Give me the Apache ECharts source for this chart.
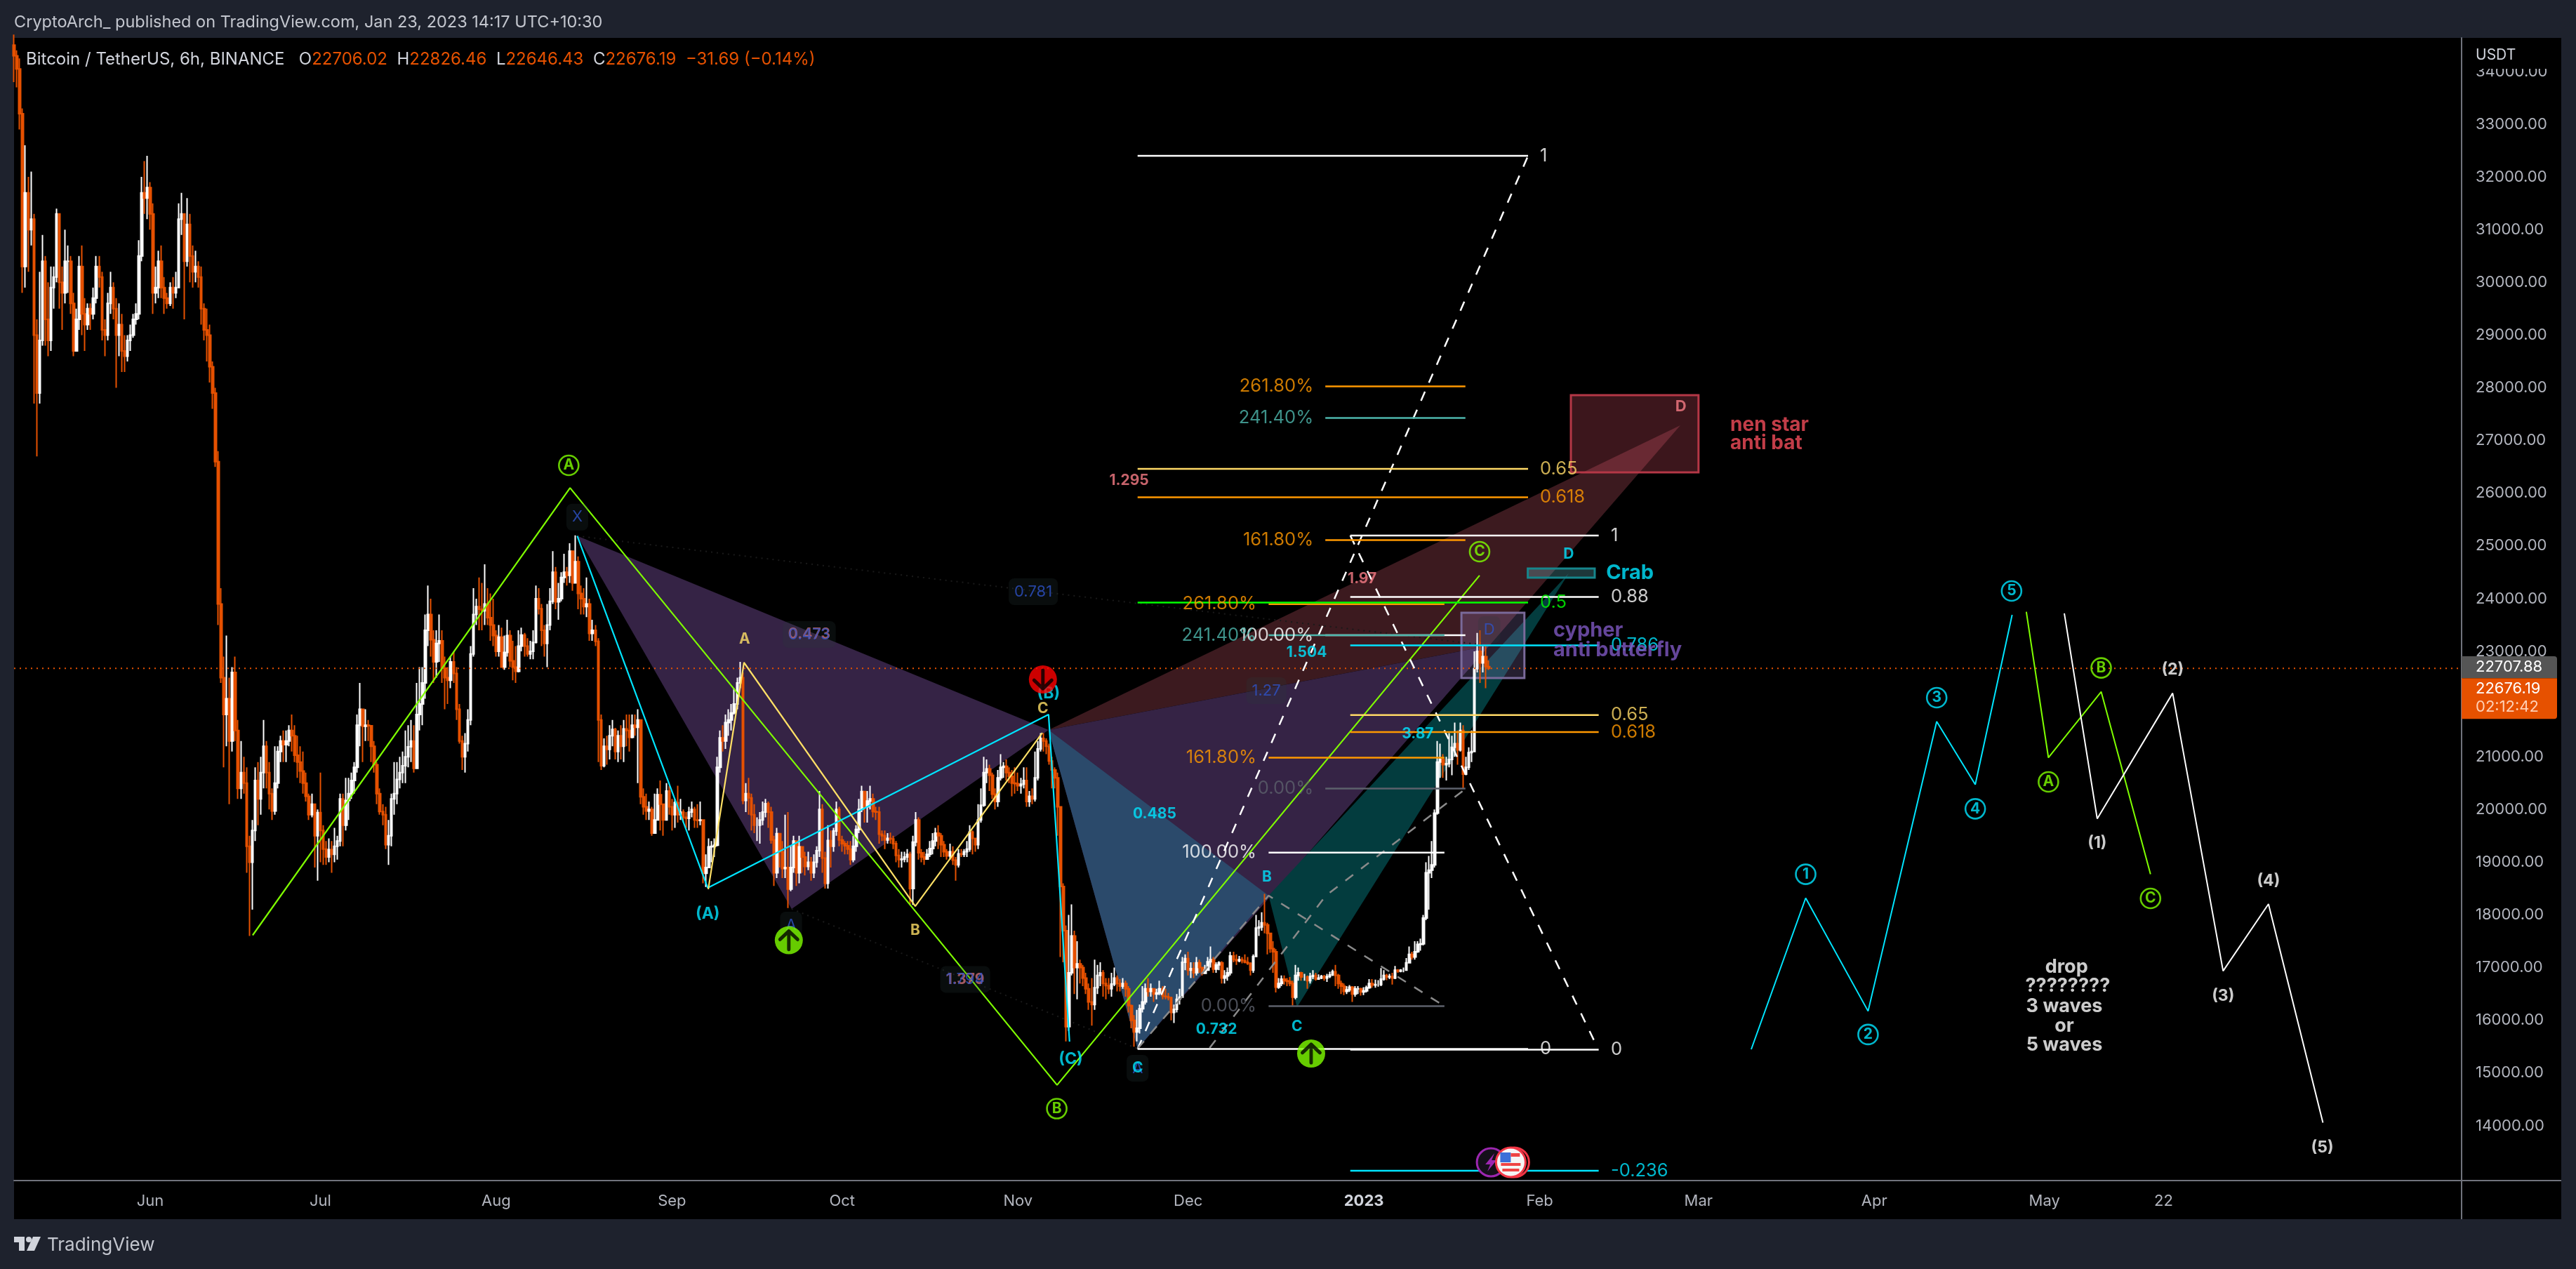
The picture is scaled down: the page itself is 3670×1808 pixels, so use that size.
<!DOCTYPE html>
<html><head><meta charset="utf-8">
<style>html,body{margin:0;padding:0;background:#1e222d}#c{width:3670px;height:1808px}</style>
<script src="https://cdn.jsdelivr.net/npm/echarts@6/dist/echarts.min.js"></script>
</head><body><div id="c"></div>
<script>
// time axis: days since 1 Jun 2022. Candles are 12 h apart, [close, low, high]; open = previous close.
const firstCandleDay = -24, firstOpen = 34500;
const may22 = [[34300,33800,34700],[34050,33700,34400],[33200,32900,34250],[30300,29800,33300],[31700,29900,32600],[31000,30200,32000],[31200,30700,32100],[29000,27700,31300],[27900,26700,29300],[28900,27700,30200],[30400,28800,30900],[29300,28800,30500],[28900,28600,30000],[29900,28700,30300],[30100,29500,30300],[31300,30000,31400],[30000,29500,31300],[29800,29100,30300],[30400,29600,31000],[30400,29800,30700],[29600,29400,30500],[28700,28600,29800],[29300,28700,29500],[30300,29100,30500],[29400,29000,30700],[29200,28700,29700],[29500,29100,29600],[29400,29100,29600],[29700,29300,29900],[30300,29600,30500],[30100,29900,30500],[29100,28900,30200],[29000,28600,29300],[29600,28900,29800],[29900,29400,30200],[29500,29300,30000],[29000,28000,29700],[29200,28600,29600],[28700,28300,29400],[28600,28300,29000],[28900,28500,29000],[29000,28700,29200],[29300,28950,29400],[29400,29200,29600],[30500,29300,30800],[31700,30400,32000],[31600,31300,32300],[31800,31200,32400]];
const jun22 = [[31300,31000,31900],[29800,29400,31500],[29900,29600,30300],[30400,29700,30600],[29900,29700,30700],[29700,29400,30100],[29600,29500,29800],[29900,29550,30000],[29800,29500,30100],[29900,29700,30200],[31200,29900,31500],[31300,30900,31700],[30400,29300,31300],[31100,30300,31600],[30500,30000,31300],[30200,29900,30700],[30300,30000,30600],[30100,29900,30400],[29500,29200,30300],[29100,28900,29600],[29000,28500,29500],[28400,28100,29200],[27900,27600,28500],[26600,26500,28000],[23900,23500,26800],[22500,22400,24200],[21800,20800,22900],[22100,21200,23300],[21300,20100,22500],[22600,21100,22700],[21500,21300,22900],[20400,20200,21700],[20700,20200,21300],[20500,20300,21000],[19300,18800,20800],[19000,17600,19500],[19600,18100,19800],[20550,19400,20800],[20200,19700,20900],[20700,19900,21000],[21200,20400,21700],[20700,20400,21300],[20300,20000,20900],[19970,19800,20400],[20500,19900,21200],[21100,20400,21200],[21300,20900,21400],[21230,20900,21500],[21300,20900,21500],[21500,21200,21600],[21400,21100,21800],[21030,20900,21600],[20900,20600,21400],[20730,20500,21200],[20500,20300,21100],[20250,20150,20700],[19900,19800,20300],[20100,19850,20300],[19500,18900,20100],[19940,18650,20000]];
const jul22 = [[19600,19000,20700],[19250,18950,19700],[19100,18950,19400],[19240,19000,19450],[19150,18800,19400],[19300,19000,19650],[19400,19050,19500],[20200,19300,20300],[19700,19300,20300],[20170,19600,20600],[20300,19800,20600],[20550,20200,20700],[20800,20300,20900],[21600,20700,21800],[21900,21200,22400],[21580,20900,21900],[21600,21300,21900],[21590,21300,21700],[21200,20900,21600],[20850,20700,21300],[20300,20100,20900],[19960,19900,20400],[19900,19700,20100],[19330,19250,20050],[19500,18950,19800],[20200,19300,20300],[20300,19900,20900],[20570,20100,20900],[20700,20400,21000],[20830,20500,21100],[21000,20500,21500],[21190,20800,21600],[21300,20900,21700],[20780,20700,21600],[21800,20800,22400],[22000,21500,22700],[22400,21600,22700],[23400,22100,23700],[23700,23100,24250],[23220,22900,24000],[22800,22400,23400],[23150,22500,23400],[23200,22800,23700],[22680,22400,23400],[22500,21900,22900],[22450,22000,22700],[22800,22300,22900],[22580,22400,23000],[21900,21700,22700],[21300,21250,22000],[21000,20750,21400],[21250,20700,21450],[21700,21100,21900],[22950,21600,23100],[23700,22900,24200],[23850,23500,24000],[23800,23400,24400],[23770,23400,24300],[23900,23500,24650],[23640,23500,24200],[23500,23200,24100],[23300,23100,24000]];
const aug22 = [[23000,22900,23400],[23270,22900,23500],[22700,22700,23450],[22980,22650,23300],[23300,22900,23600],[22820,22700,23400],[22700,22450,23200],[22620,22400,23100],[23100,22600,23400],[23310,23000,23450],[23100,22900,23350],[22950,22900,23250],[23000,22850,23200],[23170,22850,23400],[24000,23150,24250],[23810,23700,24200],[23400,23100,23900],[23150,22900,23500],[23500,22700,23900],[23950,23400,24200],[24500,23900,24900],[23940,23800,24600],[24000,23600,24300],[24400,23950,24500],[24500,24300,24850],[24440,24250,24600],[24900,24300,25050],[24300,24150,24900],[24700,24300,25200],[24100,23800,24800],[24000,23700,24250],[23850,23700,24200],[23900,23650,24400],[23340,23200,24000],[23400,23200,23600],[23190,23100,23500],[21700,20900,23250],[20830,20750,21800],[21200,20800,21350],[21140,20850,21400],[21400,20950,21600],[21520,21200,21700],[21100,20950,21550],[21400,20900,21500],[21200,20950,21600],[21530,20900,21700],[21500,21200,21800],[21370,21100,21800],[21600,21350,21800],[21560,21400,21800],[21700,20500,21900],[20240,20100,21000],[20050,19900,20400],[19970,19800,20300],[20000,19800,20150],[19550,19500,20050],[19800,19550,20300],[20280,19800,20400],[20100,19600,20550],[19800,19500,20100],[20350,19800,20500],[20050,19900,20450]];
const sep22 = [[19900,19600,20200],[20130,19650,20200],[19900,19750,20450],[19950,19800,20200],[19850,19750,20000],[19830,19650,19950],[19950,19600,20050],[20000,19850,20150],[19800,19650,20050],[19790,19650,20100],[19800,19700,20150],[18790,18600,19800],[18900,18530,19150],[19290,18900,19450],[19300,19000,19400],[19320,19100,19450],[20800,19300,21000],[21360,20700,21500],[21300,21100,21600],[21650,21150,21800],[21700,21400,21900],[21830,21500,22000],[22000,21800,22300],[22400,21900,22500],[22500,22300,22800],[20170,20100,22600],[20300,19950,20500],[20220,19900,20600],[19900,19600,20300],[19700,19550,20100],[19700,19400,19850],[19800,19350,19950],[19950,19700,20150],[20110,19850,20200],[19950,19650,20150],[19420,19350,20050],[18800,18550,19500],[19540,18700,19650],[19200,18900,19500],[18880,18700,19400],[18900,18700,19900],[18490,18130,19950],[18900,18450,19300],[19400,18800,19500],[18800,18550,19300],[19290,18600,19500],[19100,18800,19300],[18920,18750,19200],[19000,18850,19200],[18800,18650,19100],[19000,18700,19150],[19220,18900,19300],[20000,19100,20350],[19080,18800,20100],[18600,18500,19200],[19410,18500,19700],[19300,18900,19600],[19590,19200,19650],[20000,19500,20150],[19420,19300,20050]];
const oct22 = [[19350,19200,19500],[19310,19150,19400],[19250,19150,19400],[19050,18950,19400],[19300,19000,19500],[19620,19200,19700],[20000,19550,20200],[20340,19950,20450],[20050,19750,20350],[20160,19750,20350],[20200,20000,20450],[19960,19850,20300],[19950,19800,20050],[19530,19350,20050],[19500,19400,19600],[19420,19250,19600],[19450,19350,19550],[19440,19350,19560],[19350,19250,19500],[19130,19000,19400],[19050,18900,19250],[19060,18900,19200],[19100,19000,19200],[19150,19000,19250],[18500,18200,19200],[19380,18190,19500],[19800,19300,19950],[19180,19050,19850],[19100,19000,19250],[19060,18950,19200],[19150,19050,19250],[19260,19100,19400],[19400,19150,19550],[19550,19300,19650],[19500,19250,19700],[19330,19100,19550],[19200,19100,19400],[19120,19050,19250],[19200,19050,19350],[19040,18950,19300],[18950,18650,19100],[19160,18900,19250],[19150,19100,19250],[19200,19100,19250],[19250,19100,19400],[19570,19200,19700],[19450,19150,19600],[19330,19200,19450],[19800,19250,20100],[20080,19750,20400],[20700,20050,21000],[20770,20500,20950],[20650,20350,20850],[20290,20200,20700],[20150,20000,20400],[20600,20050,20750],[20800,20550,21050],[20820,20600,20900],[20700,20550,20950],[20630,20500,20800],[20500,20250,20750],[20490,20300,20800]];
const nov22 = [[20450,20350,20700],[20480,20300,20600],[20550,20400,20800],[20150,20050,20800],[20250,20050,20350],[20200,20100,20400],[20600,20150,21100],[21150,20550,21300],[21350,21100,21450],[21300,21100,21450],[21200,21050,21350],[20920,20850,21250],[20750,20400,21000],[20600,20400,20800],[20050,19500,20700],[18540,17200,19900],[17700,17100,18600],[15880,15600,17800],[16900,15800,18000],[17600,16850,18200],[17000,16500,17700],[17070,16400,17500],[17000,16700,17150],[16800,16650,17050],[16600,16500,16900],[16350,16200,16700],[16300,15900,16800],[16620,16200,17150],[16850,16500,17050],[16900,16650,17100],[16700,16450,16950],[16660,16400,16800],[16600,16500,16800],[16690,16450,16900],[16800,16650,17000],[16700,16550,16850],[16650,16550,16780],[16700,16600,16800],[16600,16450,16750],[16280,16150,16650],[16000,15850,16300],[15780,15500,16100],[15850,15600,16200],[16220,15750,16300],[16350,16150,16650],[16600,16300,16700],[16550,16450,16800],[16600,16450,16700],[16500,16350,16600],[16520,16400,16600],[16600,16480,16750],[16460,16400,16650],[16450,16400,16600],[16430,16380,16520],[16150,16000,16450],[16210,15950,16300],[16400,16150,16500],[16440,16300,16600],[17100,16450,17200],[17170,16950,17250]];
const dec22 = [[16950,16850,17300],[16980,16800,17100],[16900,16800,17100],[17090,16850,17200],[17000,16900,17150],[16890,16850,17000],[16950,16880,17050],[17110,16950,17200],[17150,17000,17400],[16970,16900,17200],[17050,16900,17100],[17090,16950,17120],[16800,16700,17120],[16840,16700,16950],[16900,16750,17000],[17220,16850,17300],[17150,17100,17300],[17130,17050,17250],[17150,17100,17220],[17130,17080,17200],[17100,17080,17250],[17080,17050,17200],[16950,16850,17100],[17210,16900,17250],[17750,17200,18000],[17770,17600,17900],[17850,17700,18050],[17810,17650,18400],[17650,17250,17850],[17360,17280,17600],[17300,16900,17500],[16630,16530,17350],[16700,16600,16800],[16780,16650,16850],[16750,16680,16850],[16740,16650,16800],[16700,16650,16820],[16440,16280,16750],[16850,16400,17050],[16900,16750,17000],[16820,16750,16920],[16820,16750,16880],[16750,16600,16850],[16830,16700,16900],[16850,16780,16950],[16780,16750,16900],[16800,16770,16870],[16830,16780,16860],[16800,16750,16860],[16830,16730,16880],[16860,16800,16920],[16920,16840,16960],[16850,16650,17050],[16700,16600,16880],[16650,16500,16750],[16550,16480,16700],[16580,16500,16650],[16630,16540,16670],[16500,16350,16650],[16600,16450,16650],[16600,16500,16650],[16540,16470,16620]];
const jan23 = [[16560,16480,16630],[16620,16530,16660],[16700,16600,16780],[16670,16620,16780],[16680,16620,16770],[16680,16640,16760],[16780,16650,16990],[16850,16750,16950],[16820,16760,16880],[16830,16780,16880],[16800,16680,16900],[16950,16780,17030],[16930,16900,16970],[16950,16910,16970],[16950,16910,17000],[17090,16940,17180],[17250,17080,17400],[17200,17150,17300],[17300,17150,17500],[17440,17280,17500],[17450,17320,17550],[17940,17420,18000],[18800,17900,19000],[18850,18100,19120],[18950,18700,19400],[19930,18900,20000],[20900,19900,21300],[20950,20600,21250],[20850,20600,21050],[20870,20550,21000],[20950,20800,21450],[21180,20650,21400],[21250,21000,21650],[21130,20850,21500],[21500,21100,21650],[20670,20400,21600],[20800,20650,21000],[21080,20750,21180],[21100,20900,21500],[22670,21400,23000],[23000,22600,23350],[22780,22400,23400],[22900,22600,23100],[22710,22300,23100],[22676.19,22646.43,22826.46]];

// axes
const priceTicks = [14000,15000,16000,17000,18000,19000,20000,21000,23000,24000,25000,26000,27000,28000,29000,30000,31000,32000,33000,34000];
const timeTickDays = [0,30,61,92,122,153,183,214,245,273,304,334,355];
const timeTickLabels = ['Jun','Jul','Aug','Sep','Oct','Nov','Dec','2023','Feb','Mar','Apr','May','22'];
const lastPrice = 22676.19, markPrice = 22707.88;

// harmonic patterns [day,price] vertices
const purpleXAB = [[75.3,25189],[113.1,18113],[158.4,21509]];
const purpleBCD = [[158.4,21509],[174.1,15463],[236.1,23107]];
const redBat = [[158.4,21509],[269.8,27288],[236.1,23107]];
const blueXAB = [[158.4,21509],[174.1,15463],[197.2,18366]];
const tealBCD = [[197.2,18366],[202.2,16249],[250.1,24478]];
const redBox = [[250.5,27860],[273,27860],[273,26396],[250.5,26396]];
const cypherBox = [[231.2,23732],[242.3,23732],[242.3,22494],[231.2,22494]];
const crabBox = [[242.9,24571],[254.7,24571],[254.7,24398],[242.9,24398]];

// wave and pattern lines
const greenWave = [[18.06,17614],[74.03,26101],[159.9,14772],[234.4,24440]];
const cyanWave = [[75.3,25189],[98.3,18513],[158.4,21802],[162.1,15597]];
const yellowABC = [[98.4,18487],[104.7,22787],[134.9,18166],[157.3,21455]];
const projCyan = [[282.3,15450],[291.9,18320],[302.9,16174],[315,21669],[321.8,20474],[328.3,23693]];
const projGreen = [[330.8,23750],[334.7,20983],[344,22234],[352.7,18771]];
const projWhite = [[337.5,23721],[343.3,19825],[356.6,22206],[365.5,16936],[373.5,18207],[383.1,14058]];
const dashWhiteUp = [[174.1,15456],[242.95,32401]];
const dashWhiteDown = [[211.6,25197],[254.8,15570]];
const dashGrayA = [[186.8,15476],[207.3,18366],[231.8,20383]];
const dashGrayB = [[174.1,15463],[197.2,18366],[228.2,16269]];
const dotXD = [[75.3,25189],[236.1,23107]];
const dotAC = [[113.1,18113],[174.1,15463]];

// fib retracements / extensions
const fibADays = [207.2,231.9], fibAPrices = [28028,27428,25109,23306,20396], fibALabels = ['261.80%','241.40%','161.80%','100.00%','0.00%'], fibALabelDay = 205.1;
const fibBDays = [197.2,228.2], fibBPrices = [23896,23306,20983,19182,16269], fibBLabels = ['261.80%','241.40%','161.80%','100.00%','0.00%'], fibBLabelDay = 195.05;
const fibCDays = [174.1,242.95], fibCPrices = [32401,26462,25923,23926,15456], fibCLabels = ['1','0.65','0.618','0.5','0'], fibCLabelDay = 245.05;
const fibDDays = [211.6,255.4], fibDPrices = [25197,24032,23112,21791,21469,15444,13146], fibDLabels = ['1','0.88','0.786','0.65','0.618','0','-0.236'], fibDLabelDay = 257.55;
const fibPalette = {'261.80%':'#ff9800','241.40%':'#4db6ac','161.80%':'#ff9800','100.00%':'#ffffff','0.00%':'#5d606b','1':'#ffffff','0.88':'#ffffff','0.786':'#00e5ff','0.65':'#ffd966','0.618':'#ff9800','0.5':'#00ff00','0':'#ffffff','-0.236':'#00e5ff'};

// annotations [day, price, text]
const circledGreen = [[73.8,26529,'A'],[159.85,14324,'B'],[234.4,24891,'C'],[334.7,20523,'A'],[344,22686,'B'],[352.7,18313,'C']];
const circledCyan = [[291.9,18771,'1'],[302.9,15731,'2'],[315,22121,'3'],[321.8,20013,'4'],[328.2,24145,'5']];
const waveCyan = [[98.3,18020,'(A)'],[158.4,22201,'(B)'],[162.3,15264,'(C)']];
const waveWhite = [[343.3,19365,'(1)'],[356.6,22654,'(2)'],[365.5,16466,'(3)'],[373.5,18648,'(4)'],[383,13586,'(5)']];
const dropNote = [[337.9,17012,'drop'],[338.1,16649,'????????'],[337.5,16268,'3 waves'],[337.5,15890,'or'],[337.5,15525,'5 waves']];
const yellowMarks = [[104.8,23230,'A'],[134.9,17707,'B'],[157.4,21908,'C']];
const chipBlue = [[75.3,25547,'X'],[116.2,23320,'0.473'],[155.7,24132,'0.781'],[196.8,22254,'1.27'],[143.7,16776,'1.794'],[236.1,23413,'D'],[174.1,15091,'A'],[113,17807,'A']];
const salmonMarks = [[116.2,23320,'0.473'],[143.7,16776,'1.379'],[213.7,24372,'1.97'],[172.6,26236,'1.295']];
const salmonD = [[269.9,27647,'D']];
const cyanMarks = [[203.9,22973,'1.504'],[223.5,21429,'3.87'],[177.1,19911,'0.485'],[188,15830,'0.732'],[196.9,18712,'B'],[202.2,15876,'C'],[250.1,24838,'D'],[174.1,15091,'C']];
const crabTitle = [[256.7,24491,'Crab']];
const cypherTitle = [[247.4,23400,'cypher'],[247.4,23027,'anti butterfly']];
const batTitle = [[278.6,27288,'nen star'],[278.6,26942,'anti bat']];
const upArrows = [[112.6,17519],[204.7,15370]];
const downArrows = [[157.4,22467]];
const eventIcons = [[236.4,13306],[239.9,13306]];

const XMIN = -24.01, XMAX = 407.55, YMIN = 12960, YMAX = 34638;
const UI = 'Inter, "Noto Sans", sans-serif';
const ORANGE = '#e65100';
const ARROW = 'path://M12 24L12 2M2 12L12 2L22 12';

let prev = firstOpen;
const candles = [...may22,...jun22,...jul22,...aug22,...sep22,...oct22,...nov22,...dec22,...jan23].map((c,i)=>{
  const row = [firstCandleDay + i*0.5, prev, c[0], c[1], c[2]];
  prev = c[0];
  return row;
});

function polySeries(name, verts, fill, stroke, z){
  return {type:'custom', name, z, silent:true, coordinateSystem:'cartesian2d', clip:true,
    data:[verts.flat()],
    renderItem(p, api){
      const pts = verts.map((_,i)=>api.coord([api.value(i*2), api.value(i*2+1)]));
      return {type:'polygon', shape:{points:pts}, style:{fill, stroke:stroke||null, lineWidth:stroke?3:0}};
    }};
}
function lineSeries(name, data, color, width, type, z){
  return {type:'line', name, data, symbol:'none', showSymbol:false, silent:true, z:z||4,
    lineStyle:{color, width:width||2, type:type||'solid'}, emphasis:{disabled:true}};
}
function labelSeries(name, list, o){
  return {type:'scatter', name, silent:true, z:o.z||6, symbolSize:1, itemStyle:{color:'transparent'},
    data:list.map(a=>({name:a[2], value:[a[0],a[1]]})),
    label:{show:true, position:'inside', formatter:'{b}', color:o.color, fontSize:o.size||24, fontWeight:o.weight||'normal',
      fontFamily:o.family||UI, align:o.align||'center', verticalAlign:'middle', lineHeight:o.size||24,
      backgroundColor:o.bg||'transparent', padding:o.bg?[8,8]:0, borderRadius:o.bg?8:0},
    emphasis:{disabled:true}};
}
function ringSeries(name, list, color){
  return {type:'scatter', name, silent:true, z:6, symbol:'circle', symbolSize:28,
    itemStyle:{color:'transparent', borderColor:color, borderWidth:2.6},
    data:list.map(a=>({name:a[2], value:[a[0],a[1]]})),
    label:{show:true, position:'inside', formatter:'{b}', color, fontSize:21, fontWeight:'bold', fontFamily:UI},
    emphasis:{disabled:true}};
}
function fibSeries(days, prices, labels, labelDay, align){
  const out = prices.map((p,i)=>lineSeries('fib '+labels[i], [[days[0],p],[days[1],p]], fibPalette[labels[i]], 2.5));
  labels.forEach((t,i)=>out.push(labelSeries('fib text '+t, [[labelDay,prices[i],t]], {color:fibPalette[t], size:25.5, align})));
  return out;
}
function arrowSeries(name, list, color, rot){
  return [
    {type:'scatter', name, silent:true, z:7, symbol:'circle', symbolSize:40, itemStyle:{color}, data:list, emphasis:{disabled:true}},
    {type:'scatter', name:name+' arrow', silent:true, z:8, symbol:ARROW, symbolSize:[25,26], symbolRotate:rot,
      itemStyle:{color:'transparent', borderColor:'#000000', borderWidth:5, borderCap:'round', borderJoin:'round'}, data:list, emphasis:{disabled:true}}
  ];
}

const series = [
  polySeries('nen star anti bat', redBat, '#3c1a1f', null, 1),
  polySeries('cypher XAB', purpleXAB, '#352345', null, 1),
  polySeries('cypher BCD', purpleBCD, '#352345', null, 1),
  polySeries('crab XAB', blueXAB, '#2b4a6b', null, 1),
  polySeries('crab BCD', tealBCD, '#033c3e', null, 1),
  polySeries('bat zone', redBox, 'rgba(240,88,112,0.25)', '#b43746', 1),
  polySeries('cypher zone', cypherBox, 'rgba(170,140,220,0.22)', '#7a6a9a', 1),
  polySeries('crab zone', crabBox, 'rgba(120,220,230,0.25)', '#16868c', 1),
  lineSeries('X-D', dotXD, '#1a1a1a', 2, [2,6], 1.5),
  lineSeries('A-C', dotAC, '#1a1a1a', 2, [2,6], 1.5),
  {type:'candlestick', name:'BTCUSDT', data:candles, encode:{x:0,y:[1,2,3,4]}, barWidth:3, silent:true, z:2,
    itemStyle:{color:'#ffffff', color0:ORANGE, borderColor:'#ffffff', borderColor0:ORANGE, borderWidth:2}},
  lineSeries('last price', [[XMIN,lastPrice],[XMAX,lastPrice]], ORANGE, 2, [2,6], 3),
  lineSeries('green wave', greenWave, '#7fff00', 2.2),
  lineSeries('cyan wave', cyanWave, '#00e5ff', 2.2),
  lineSeries('yellow abc', yellowABC, '#ffe066', 2.2),
  lineSeries('proj cyan', projCyan, '#00e5ff', 2),
  lineSeries('proj green', projGreen, '#7fff00', 2),
  lineSeries('proj white', projWhite, '#ffffff', 2),
  lineSeries('dash up', dashWhiteUp, '#ffffff', 2.5, [14,14]),
  lineSeries('dash down', dashWhiteDown, '#ffffff', 2.5, [14,14]),
  lineSeries('dash gray a', dashGrayA, '#8a8a8a', 2.5, [14,14]),
  lineSeries('dash gray b', dashGrayB, '#8a8a8a', 2.5, [14,14]),
  ...fibSeries(fibADays, fibAPrices, fibALabels, fibALabelDay, 'right'),
  ...fibSeries(fibBDays, fibBPrices, fibBLabels, fibBLabelDay, 'right'),
  ...fibSeries(fibCDays, fibCPrices, fibCLabels, fibCLabelDay, 'left'),
  ...fibSeries(fibDDays, fibDPrices, fibDLabels, fibDLabelDay, 'left'),
  ringSeries('circled green', circledGreen, '#7fff00'),
  ringSeries('circled cyan', circledCyan, '#00e5ff'),
  labelSeries('wave cyan', waveCyan, {color:'#00e5ff', size:23, weight:'bold'}),
  labelSeries('wave white', waveWhite, {color:'#ffffff', size:23, weight:'bold'}),
  labelSeries('drop note', dropNote, {color:'#ffffff', size:27, weight:'bold'}),
  labelSeries('yellow marks', yellowMarks, {color:'#ffe066', size:21, weight:'bold'}),
  labelSeries('salmon marks', salmonMarks, {color:'#f87c86', size:21, weight:'bold', z:5}),
  labelSeries('salmon d', salmonD, {color:'#f87c86', size:22, weight:'bold'}),
  labelSeries('blue chips', chipBlue, {color:'#2e52c8', size:22, bg:'rgba(40,60,60,0.28)'}),
  labelSeries('cyan marks', cyanMarks, {color:'#00e5ff', size:21, weight:'bold'}),
  labelSeries('crab title', crabTitle, {color:'#00e5ff', size:29, weight:'bold', align:'left'}),
  labelSeries('cypher title', cypherTitle, {color:'#7e57c2', size:29, weight:'bold', align:'left'}),
  labelSeries('bat title', batTitle, {color:'#f24c5a', size:28, weight:'bold', align:'left'}),
  ...arrowSeries('long signals', upArrows, '#7fff00', 0),
  ...arrowSeries('short signal', downArrows, '#ff0000', 180),
  {type:'custom', name:'events', silent:true, z:7, clip:false, data:eventIcons, encode:{x:0,y:1},
    renderItem(p, api){
      const c = api.coord([api.value(0), api.value(1)]);
      if(p.dataIndex === 0){
        return {type:'group', children:[
          {type:'circle', shape:{cx:c[0],cy:c[1],r:20}, style:{fill:'#15101a', stroke:'#9c27b0', lineWidth:3}},
          {type:'polygon', shape:{points:[[c[0]+5,c[1]-13],[c[0]-8,c[1]+3],[c[0]-1,c[1]+3],[c[0]-5,c[1]+13],[c[0]+8,c[1]-3],[c[0]+1,c[1]-3]]}, style:{fill:'#9c27b0'}}
        ]};
      }
      const kids = [
        {type:'circle', shape:{cx:c[0]+5,cy:c[1],r:21}, style:{fill:'#000', stroke:'#f23645', lineWidth:3}},
        {type:'circle', shape:{cx:c[0],cy:c[1],r:21}, style:{fill:'#f5f5f5', stroke:'#f23645', lineWidth:3}},
        {type:'rect', shape:{x:c[0]-14,y:c[1]+1,width:28,height:4}, style:{fill:'#ef4444'}},
        {type:'rect', shape:{x:c[0]-12,y:c[1]+9,width:24,height:4}, style:{fill:'#ef4444'}},
        {type:'rect', shape:{x:c[0]-15,y:c[1]-14,width:15,height:14}, style:{fill:'#3b6fd8'}},
        {type:'rect', shape:{x:c[0],y:c[1]-13,width:13,height:5}, style:{fill:'#ef4444'}}
      ];
      return {type:'group', children:kids};
    }},
  {type:'custom', name:'price tags', silent:true, z:20, clip:false,
    data:[[XMAX,markPrice,markPrice.toFixed(2),''],[XMAX,lastPrice,lastPrice.toFixed(2),'02:12:42']],
    encode:{x:0,y:1},
    renderItem(p, api){
      const c = api.coord([api.value(0), api.value(1)]);
      const txt = {fontFamily:UI, fontSize:22};
      if(p.dataIndex === 0){
        return {type:'group', children:[
          {type:'rect', shape:{x:c[0],y:c[1]-15,width:136,height:31,r:[0,4,0,0]}, style:{fill:'#555555'}},
          {type:'text', x:c[0]+20, y:c[1], style:{...txt, text:api.value(2), fill:'#ffffff', align:'left', verticalAlign:'middle'}}
        ]};
      }
      return {type:'group', children:[
        {type:'rect', shape:{x:c[0],y:c[1]+14,width:136,height:58,r:[0,0,4,0]}, style:{fill:ORANGE}},
        {type:'text', x:c[0]+20, y:c[1]+29, style:{...txt, text:api.value(2), fill:'#ffffff', align:'left', verticalAlign:'middle'}},
        {type:'text', x:c[0]+20, y:c[1]+55, style:{...txt, text:api.value(3), fill:'#ffd0b5', align:'left', verticalAlign:'middle'}}
      ]};
    }}
];

const legendRich = {
  k:{fontFamily:UI,fontSize:24,fill:'#d1d4dc',color:'#d1d4dc'},
  v:{fontFamily:UI,fontSize:24,fill:ORANGE,color:ORANGE}
};
const chart = echarts.init(document.getElementById('c'), null, {width:3670, height:1808});
chart.setOption({
  animation:false,
  backgroundColor:'#1e222d',
  grid:{left:20, right:163, top:54, bottom:126, containLabel:false},
  xAxis:{type:'value', min:XMIN, max:XMAX, splitLine:{show:false}, axisTick:{show:false},
    axisLine:{show:true, onZero:false, lineStyle:{color:'#70737c', width:2}},
    axisLabel:{customValues:timeTickDays, margin:18, color:'#b2b5be', fontSize:22, fontFamily:UI,
      formatter:v=>{const t=timeTickLabels[timeTickDays.indexOf(v)]; return t==='2023'?'{b|2023}':t;},
      rich:{b:{color:'#d1d4dc',fontWeight:'bold',fontSize:22,fontFamily:UI}}}},
  yAxis:{type:'value', position:'right', min:YMIN, max:YMAX, splitLine:{show:false}, axisTick:{show:false},
    axisLine:{show:true, onZero:false, lineStyle:{color:'#70737c', width:2}},
    axisLabel:{customValues:priceTicks, margin:20, color:'#b2b5be', fontSize:22, fontFamily:UI, formatter:v=>v.toFixed(2)}},
  graphic:[
    {type:'rect', z:-1, shape:{x:20,y:54,width:3629,height:1683}, style:{fill:'#000000'}},
    {type:'line', z:1, shape:{x1:3507,y1:1682,x2:3649,y2:1682}, style:{stroke:'#70737c',lineWidth:2}},
    {type:'line', z:1, shape:{x1:3507,y1:1682,x2:3507,y2:1737}, style:{stroke:'#70737c',lineWidth:2}},
    {type:'rect', z:50, shape:{x:3510,y:54,width:139,height:44}, style:{fill:'#000000'}},
    {type:'text', z:51, x:3527, y:79, style:{text:'USDT', fontFamily:UI, fontSize:21, fill:'#d1d4dc', verticalAlign:'middle'}},
    {type:'text', z:51, x:20, y:32, style:{text:'CryptoArch_ published on TradingView.com, Jan 23, 2023 14:17 UTC+10:30', fontFamily:UI, fontSize:23.5, fill:'#c3c6ce', verticalAlign:'middle'}},
    {type:'text', z:51, x:37, y:85, style:{
      text:'{k|Bitcoin / TetherUS, 6h, BINANCE   O}{v|22706.02}{k|  H}{v|22826.46}{k|  L}{v|22646.43}{k|  C}{v|22676.19}{v|  −31.69 (−0.14%)}',
      rich:legendRich, fontFamily:UI, fontSize:24, verticalAlign:'middle'}},
    {type:'polygon', z:51, shape:{points:[[20,1762],[35,1762],[35,1782],[27,1782],[27,1770],[20,1770]]}, style:{fill:'#d1d4dc'}},
    {type:'circle', z:51, shape:{cx:41,cy:1766,r:4}, style:{fill:'#d1d4dc'}},
    {type:'polygon', z:51, shape:{points:[[47,1762],[58,1762],[49,1782],[38,1782]]}, style:{fill:'#d1d4dc'}},
    {type:'text', z:51, x:67, y:1774, style:{text:'TradingView', fontFamily:UI, fontSize:26, fill:'#c3c6ce', verticalAlign:'middle'}}
  ],
  series
});
</script></body></html>
